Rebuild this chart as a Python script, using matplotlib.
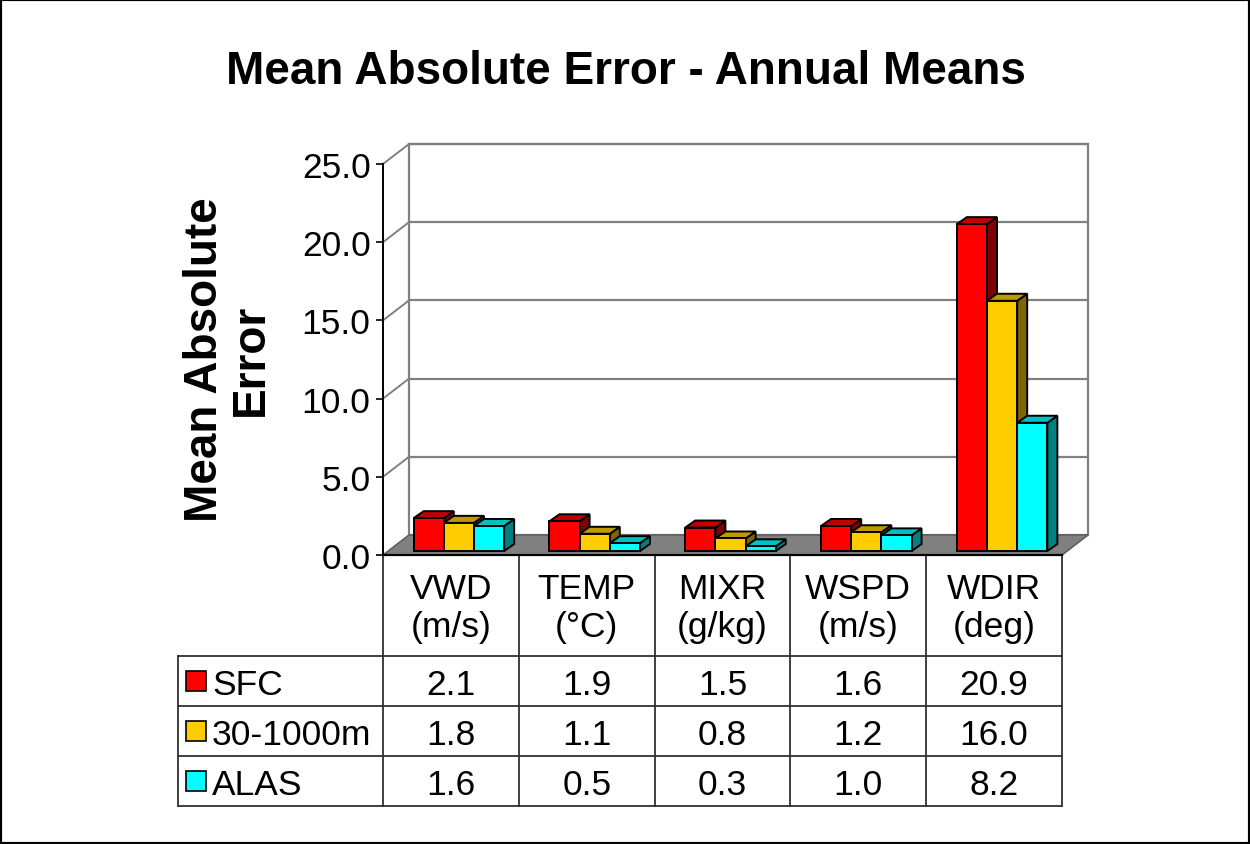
import matplotlib
matplotlib.use("Agg")
import matplotlib.pyplot as plt
from matplotlib.patches import Polygon, Rectangle

plt.rcParams['font.family'] = ['Liberation Sans', 'DejaVu Sans']

# ---- data -------------------------------------------------------------
categories = ["VWD\n(m/s)", "TEMP\n(°C)", "MIXR\n(g/kg)", "WSPD\n(m/s)", "WDIR\n(deg)"]
series_names = ["SFC", "30-1000m", "ALAS"]
sfc = [2.1, 1.9, 1.5, 1.6, 20.9]
mid_layer = [1.8, 1.1, 0.8, 1.2, 16.0]
alas = [1.6, 0.5, 0.3, 1.0, 8.2]
y_ticks = [0, 5, 10, 15, 20, 25]
title = "Mean Absolute Error - Annual Means"
y_label = "Mean Absolute\nError"

series_values = [sfc, mid_layer, alas]
front_colors = ["#FF0000", "#FFCC00", "#00FFFF"]
top_colors = ["#C00000", "#C09900", "#00C0C0"]
side_colors = ["#800000", "#806600", "#008080"]

FS = 25.5

# ---- figure / axes layout (pixels) --------------------------------------
W, H = 1250, 845
fig = plt.figure(figsize=(W / 100, H / 100), dpi=100)
x0px, x1px, ytop_px, ybot_px = 383, 1062, 165, 556
ax = fig.add_axes([x0px / W, 1 - ybot_px / H, (x1px - x0px) / W, (ybot_px - ytop_px) / H])
n = len(categories)
ax.set_xlim(0, n)
ax.set_ylim(0, 25)
ax.patch.set_visible(False)

sx = (x1px - x0px) / n          # pixels per x unit
sy = (ybot_px - ytop_px) / 25   # pixels per y unit


def px(dx, dy):
    """Convert a pixel offset (right, up) into data units."""
    return dx / sx, dy / sy


WX, WY = px(26, 20)      # depth of walls / floor
BX, BY = px(8, 4)        # bars' front plane offset
DX, DY = px(10, 7)       # bar depth
grid_c = "#808080"

# floor
ax.add_patch(Polygon([(0, 0), (n, 0), (n + WX, WY), (WX, WY)], closed=True,
                     fc="#808080", ec="#606060", lw=1.2, zorder=1, clip_on=False))
# back wall
ax.add_patch(Rectangle((WX, WY), n, 25, fill=False, ec=grid_c, lw=1.6,
                       zorder=0.5, clip_on=False))
for v in y_ticks[1:]:
    ax.plot([WX, n + WX], [v + WY, v + WY], color=grid_c, lw=1.6, zorder=0.6, clip_on=False)
    ax.plot([0, WX], [v, v + WY], color=grid_c, lw=1.4, zorder=0.6, clip_on=False)

# 3D bars
bw = 1 / 4.5
gap = 0.75 * bw
z = 2
for i in range(n):
    for j, vals in enumerate(series_values):
        h = vals[i]
        x0 = i + gap + j * bw + BX
        y0 = BY
        side = [(x0 + bw, y0), (x0 + bw + DX, y0 + DY), (x0 + bw + DX, y0 + h + DY), (x0 + bw, y0 + h)]
        top = [(x0, y0 + h), (x0 + bw, y0 + h), (x0 + bw + DX, y0 + h + DY), (x0 + DX, y0 + h + DY)]
        ax.add_patch(Polygon(side, closed=True, fc=side_colors[j], ec="black", lw=1.4,
                             zorder=z, clip_on=False, joinstyle="miter"))
        ax.add_patch(Polygon(top, closed=True, fc=top_colors[j], ec="black", lw=1.4,
                             zorder=z, clip_on=False, joinstyle="miter"))
        ax.add_patch(Rectangle((x0, y0), bw, h, fc=front_colors[j], ec="black", lw=1.4,
                               zorder=z + 0.1, clip_on=False, joinstyle="miter"))
        z += 0.2

# axes styling
for s in ["top", "right", "bottom"]:
    ax.spines[s].set_visible(False)
ax.spines["left"].set_linewidth(1.4)
ax.spines["left"].set_zorder(3)
ax.set_xticks([])
ax.set_yticks(y_ticks)
ax.set_yticklabels([f"{v:.1f}" for v in y_ticks], fontsize=FS)
ax.tick_params(axis="y", length=5, width=1.2, pad=4)
ax.plot([0, n], [0, 0], color="black", lw=1.6, zorder=1.5, clip_on=False)

# ---- data table --------------------------------------------------------
_, header_h = px(0, 101)
_, row_h = px(0, 50)
left_x, _ = px(178 - x0px, 0)
y_head = -header_h
y_bottom = y_head - 3 * row_h
line_c = "#303030"
tlw = 1.3
for k in range(n + 1):
    ax.plot([k, k], [0, y_bottom], color=line_c, lw=tlw, clip_on=False, zorder=1)
ax.plot([left_x, left_x], [y_head, y_bottom], color=line_c, lw=tlw, clip_on=False)
for r in range(4):
    yy = y_head - r * row_h
    ax.plot([left_x, n], [yy, yy], color=line_c, lw=tlw, clip_on=False)

_, lab_shift = px(0, 2)
for i, lab in enumerate(categories):
    ax.text(i + 0.5, y_head / 2 - lab_shift, lab, ha="center", va="center", fontsize=FS,
            linespacing=1.2, multialignment="center", clip_on=False)

kw, kh = px(20, 20)
key_x, _ = px(186 - x0px, 0)
txt_x, _ = px(212 - x0px, 0)
for r, (name, vals) in enumerate(zip(series_names, series_values)):
    yc = y_head - (r + 0.5) * row_h
    ax.add_patch(Rectangle((key_x, yc - kh / 2), kw, kh, fc=front_colors[r], ec="black",
                           lw=1.2, clip_on=False))
    ax.text(txt_x, yc, name, ha="left", va="center_baseline", fontsize=FS, clip_on=False)
    for i, v in enumerate(vals):
        ax.text(i + 0.5, yc, f"{v:.1f}", ha="center", va="center_baseline", fontsize=FS,
                clip_on=False)

# ---- titles ------------------------------------------------------------
fig.text(626 / W, 1 - 72 / H, title, ha="center", va="center", fontsize=33,
         fontweight="bold")
fig.text(228 / W, 1 - 360 / H, y_label, ha="center", va="center", rotation=90,
         fontsize=33, fontweight="bold", linespacing=1.05, multialignment="center")

# outer frame
fig.patches.append(Rectangle((0, 0), 1, 1, transform=fig.transFigure, fill=False,
                             ec="black", lw=3))

fig.savefig("out.png", dpi=100, facecolor="white")
